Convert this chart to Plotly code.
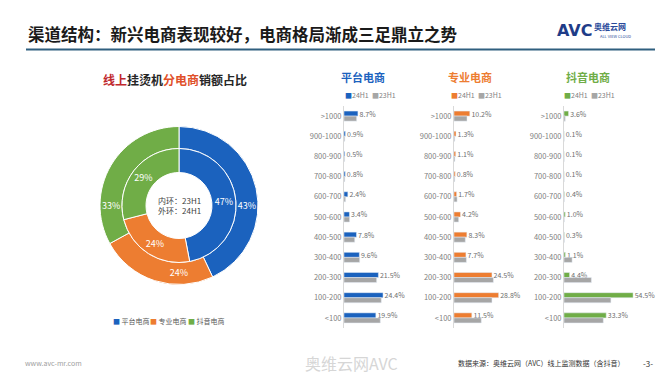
import plotly.graph_objects as go

W, H = 664, 374
FONT = "Noto Sans CJK SC"

# ---------------- data ----------------
channels = ["平台电商", "专业电商", "抖音电商"]
share_24h1 = [43, 24, 33]   # outer ring
share_23h1 = [47, 24, 29]   # inner ring

price_bands = [">1000", "900-1000", "800-900", "700-800", "600-700", "500-600",
               "400-500", "300-400", "200-300", "100-200", "<100"]

platform_24h1 = [8.7, 0.9, 0.5, 0.8, 2.4, 3.4, 7.8, 9.6, 21.5, 24.4, 19.9]
platform_23h1 = [7.9, 0.5, 0.4, 0.5, 1.0, 3.5, 6.7, 9.8, 20.4, 23.3, 22.7]

pro_24h1 = [10.2, 1.3, 1.1, 0.8, 1.7, 4.2, 8.3, 7.7, 24.5, 28.8, 11.5]
pro_23h1 = [8.4, 0.5, 0.6, 0.5, 2.0, 3.0, 7.3, 8.0, 25.4, 24.5, 17.6]

douyin_24h1 = [3.6, 0.1, 0.1, 0.1, 0.4, 1.0, 0.3, 1.1, 4.4, 54.5, 33.3]
douyin_23h1 = [1.0, 0.2, 0.2, 0.2, 0.3, 0.3, 0.4, 6.4, 21.6, 37.0, 31.0]

series_names = ["24H1", "23H1"]

# ---------------- styles ----------------
BLUE, ORANGE, GREEN, GREY = "#1B62BE", "#ED7D31", "#70AD47", "#A6A6A6"
colors = [BLUE, ORANGE, GREEN]


def px(x):
    return x / W


def py(y):
    return 1 - y / H


def note(x, y, text, size, color, anchor="center", family=FONT):
    return dict(x=px(x), y=py(y), xref="paper", yref="paper", text=text, showarrow=False,
                xanchor=anchor, yanchor="middle",
                font=dict(size=size, color=color, family=family))


fig = go.Figure()

# ---------------- donut ----------------
cx, cy = 171, 197.5
r_out, r_mid, r_hole = 79, 57, 33

fig.add_trace(go.Pie(
    labels=channels, values=share_24h1, sort=False, direction="clockwise",
    hole=r_mid / r_out,
    domain=dict(x=[px(cx - r_out), px(cx + r_out)], y=[py(cy + r_out), py(cy - r_out)]),
    marker=dict(colors=colors, line=dict(color="white", width=1)),
    texttemplate="%{value}%", textposition="inside", insidetextorientation="horizontal",
    textfont=dict(color="white", size=9, family=FONT), showlegend=False,
))
fig.add_trace(go.Pie(
    labels=channels, values=share_23h1, sort=False, direction="clockwise",
    hole=r_hole / r_mid,
    domain=dict(x=[px(cx - r_mid), px(cx + r_mid)], y=[py(cy + r_mid), py(cy - r_mid)]),
    marker=dict(colors=colors, line=dict(color="white", width=1)),
    texttemplate="%{value}%", textposition="inside", insidetextorientation="horizontal",
    textfont=dict(color="white", size=9, family=FONT), showlegend=False,
))

# ---------------- bar panels ----------------
panels = [
    ("平台电商", platform_24h1, platform_23h1, BLUE, 336, 400, 40, 355, 362),
    ("专业电商", pro_24h1, pro_23h1, ORANGE, 446, 508, 40, 462, 468),
    ("抖音电商", douyin_24h1, douyin_23h1, GREEN, 556, 646, 71, 580, 581),
]

y_top, y_bot = 98, 320
annotations = []
layout_axes = {}
for i, (title, v24, v23, col, x0, x1, xmax, tx, lx) in enumerate(panels):
    n = "" if i == 0 else str(i + 1)
    xa, ya = "x" + n, "y" + n
    fig.add_trace(go.Bar(
        y=price_bands, x=v24, orientation="h", name=series_names[0],
        marker_color=col, xaxis=xa, yaxis=ya, showlegend=False,
        text=[f" {v}%" for v in v24], textposition="outside", constraintext="none",
        textfont=dict(size=7, color="#6E6E6E", family=FONT), cliponaxis=False,
    ))
    fig.add_trace(go.Bar(
        y=price_bands, x=v23, orientation="h", name=series_names[1],
        marker_color=GREY, xaxis=xa, yaxis=ya, showlegend=False,
    ))
    layout_axes["xaxis" + n] = dict(domain=[px(x0), px(x1)], range=[0, xmax], visible=False,
                                    anchor=ya, fixedrange=True)
    layout_axes["yaxis" + n] = dict(domain=[py(y_bot), py(y_top)], anchor=xa, type="category",
                                    categoryorder="array", categoryarray=price_bands,
                                    autorange="reversed", showline=True, linecolor="#D9D9D9",
                                    linewidth=1, showgrid=False, ticks="", ticklen=0,
                                    tickfont=dict(size=7.5, color="#7F7F7F", family=FONT))
    annotations.append(note(tx, 69, f"<b>{title}</b>", 11, col))
    annotations.append(note(
        lx, 87,
        f"<span style='color:{col}'>■</span>{series_names[0]}  "
        f"<span style='color:{GREY}'>■</span>{series_names[1]}", 7, "#7F7F7F"))

# ---------------- text ----------------
annotations += [
    note(18, 26, "<b>渠道结构：新兴电商表现较好，电商格局渐成三足鼎立之势</b>", 16.5, "#1A1A1A",
         anchor="left"),
    note(566, 22, "<b>AVC</b>", 16, "#1F3C88", family="DejaVu Sans"),
    note(602, 19, "<b>奥维云网</b>", 8, "#2A4A9A"),
    note(607, 28, "ALL VIEW CLOUD", 4, "#2A4A9A"),
    note(167, 71, "<b><span style='color:#C0282D'>线上</span>挂烫机"
                  "<span style='color:#E0502A'>分电商</span>销额占比</b>", 12, "#262626"),
    note(cx, cy, "内环：23H1<br>外环：24H1", 8, "#404040"),
    note(15, 355, "www.avc-mr.com", 7, "#A0A0A0", anchor="left"),
    note(343, 355, "奥维云网AVC", 16, "#D6D6D6"),
    note(448, 355, "数据来源：奥维云网（AVC）线上监测数据（含抖音）", 7, "#333333", anchor="left"),
    note(640, 355, "-3-", 8, "#333333"),
]
legend_x = [123, 160, 198]
for name, col, lxp in zip(channels, colors, legend_x):
    annotations.append(note(lxp, 313, f"<span style='color:{col}'>■</span> {name}", 7, "#595959"))

fig.update_layout(
    width=W, height=H, margin=dict(l=0, r=0, t=0, b=0),
    paper_bgcolor="white", plot_bgcolor="white",
    barmode="group", bargap=0.5, bargroupgap=0,
    font=dict(family=FONT),
    annotations=annotations,
    shapes=[dict(type="line", xref="paper", yref="paper", x0=px(18), x1=px(647),
                 y0=py(41.5), y1=py(41.5), line=dict(color="#2F5F7F", width=2))],
    **layout_axes,
)

fig.write_html("out.html")
